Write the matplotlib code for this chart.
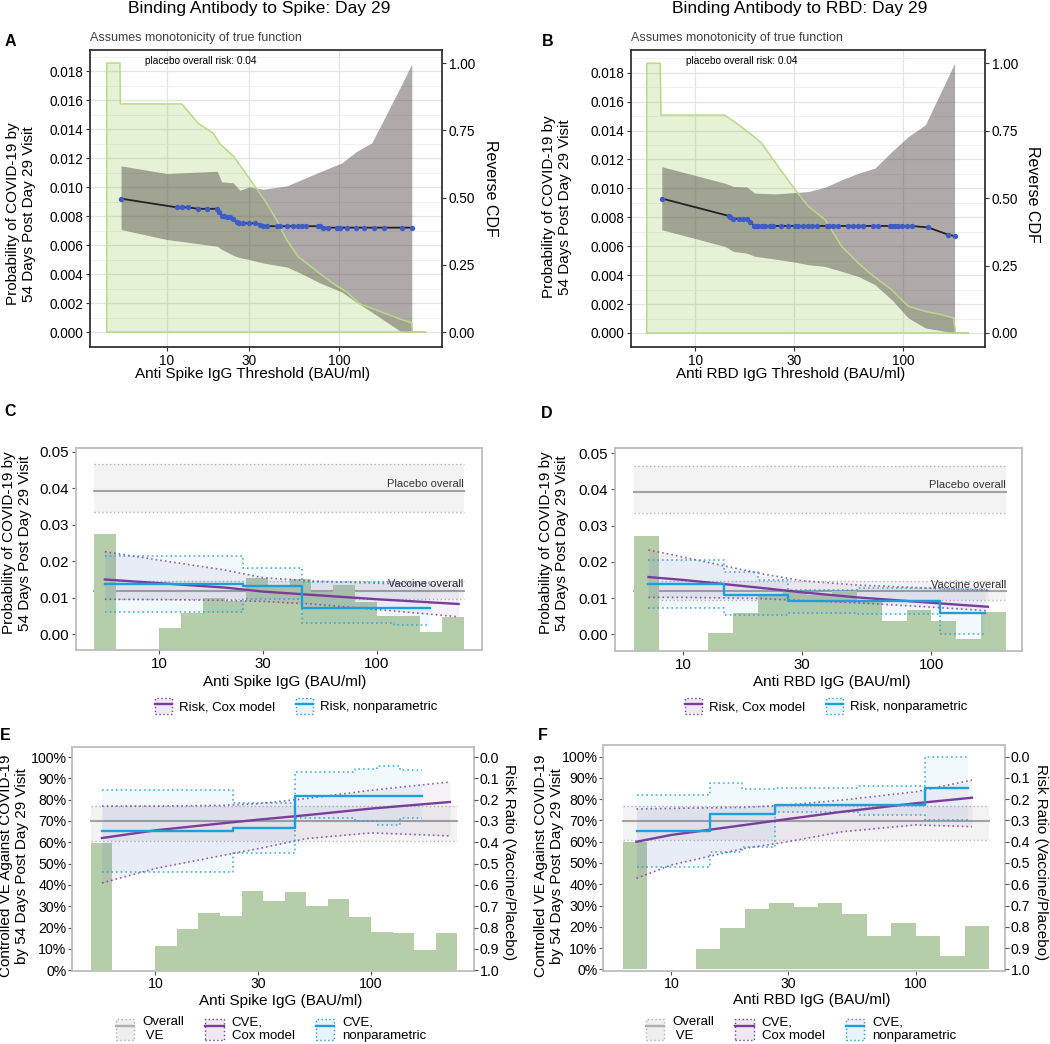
import numpy as np
import matplotlib
matplotlib.use('Agg')
import matplotlib.pyplot as plt
from matplotlib.patches import Patch
from matplotlib.lines import Line2D
from matplotlib.ticker import FixedLocator, NullLocator

plt.rcParams['font.family'] = ['Liberation Sans', 'DejaVu Sans']

# ---------------------------------------------------------------- data
titles = ["Binding Antibody to Spike: Day 29", "Binding Antibody to RBD: Day 29"]
thr_xlabels = ["Anti Spike IgG Threshold (BAU/ml)", "Anti RBD IgG Threshold (BAU/ml)"]
conc_xlabels = ["Anti Spike IgG (BAU/ml)", "Anti RBD IgG (BAU/ml)"]
risk_ylabel = "Probability of COVID-19 by\n54 Days Post Day 29 Visit"
ve_ylabel = "Controlled VE Against COVID-19\nby 54 Days Post Day 29 Visit"
x_ticks = [10, 30, 100]
thr_yticks = [0.000, 0.002, 0.004, 0.006, 0.008, 0.010, 0.012, 0.014, 0.016, 0.018]
thr_yminor = [0.001, 0.003, 0.005, 0.007, 0.009, 0.011, 0.013, 0.015, 0.017, 0.019]
cdf_ticks = [0.00, 0.25, 0.50, 0.75, 1.00]
risk_yticks = [0.00, 0.01, 0.02, 0.03, 0.04, 0.05]
ve_yticks = [0, 10, 20, 30, 40, 50, 60, 70, 80, 90, 100]
rr_ticks = [0.0, 0.1, 0.2, 0.3, 0.4, 0.5, 0.6, 0.7, 0.8, 0.9, 1.0]

# Panel A (Spike threshold)
cdfA_x = [4.47, 5.33, 5.36, 12.2, 15.2, 18.6, 20.3, 24.5, 30.6, 38.0, 43.4, 49.7, 58.0,
          77.6, 92.7, 111, 131, 157, 223, 264.8, 267, 320]
cdfA_y = [1.0, 1.0, 0.848, 0.848, 0.776, 0.739, 0.70, 0.652, 0.565, 0.478, 0.416, 0.342,
          0.28, 0.217, 0.18, 0.149, 0.106, 0.087, 0.05, 0.034, 0.0, 0.0]
ciA_x = [5.41, 10, 19.6, 20.8, 24.3, 26.5, 30.1, 36.3, 49.7, 59.5, 77.6, 104, 125.6, 155,
         183, 232, 264.8]
ciA_hi = [0.01146, 0.01093, 0.01109, 0.01036, 0.01029, 0.00978, 0.01001, 0.00985, 0.01008,
          0.01047, 0.01105, 0.01167, 0.01243, 0.01305, 0.0147, 0.0171, 0.01848]
ciA_lo = [0.00707, 0.00638, 0.00592, 0.00570, 0.00529, 0.00513, 0.00500, 0.00476, 0.00449,
          0.00407, 0.00338, 0.00276, 0.00207, 0.00138, 0.0008, 0.0, 0.0]
ptsA_x = [5.41, 11.4, 12.2, 13.2, 15.2, 17.2, 19.6, 20.2, 20.8, 21.4, 22.2, 23.2, 24.3, 25.4,
          26.4, 27.6, 30.1, 32.5, 34.8, 36.3, 38.0, 43.4, 45.4, 49.7, 54.2, 58.0, 60.7, 64.3,
          75.1, 77.6, 81.1, 86.8, 97.0, 101.4, 110.9, 125.6, 140.4, 160.4, 183.4, 231.6, 264.8]
ptsA_y = [0.0092, 0.0086, 0.0086, 0.0086, 0.0085, 0.0085, 0.0085, 0.0083, 0.0080, 0.0080,
          0.0079, 0.0079, 0.0078, 0.0076, 0.0075, 0.0075, 0.0075, 0.0075, 0.0074, 0.0073,
          0.0073, 0.0073, 0.0073, 0.0073, 0.0073, 0.0073, 0.0073, 0.0073, 0.0073, 0.0073,
          0.0072, 0.0072, 0.0072, 0.0072, 0.0072, 0.0072, 0.0072, 0.0072, 0.0072, 0.0072, 0.0072]

# Panel B (RBD threshold)
cdfB_x = [5.86, 6.8, 6.85, 13.9, 16.2, 18.7, 20.9, 25.1, 30.3, 35.1, 42.2, 50.7, 61.0, 70.6,
          88.3, 106, 128, 153, 175, 179, 206]
cdfB_y = [1.0, 1.0, 0.808, 0.808, 0.772, 0.735, 0.704, 0.617, 0.531, 0.469, 0.42, 0.321,
          0.259, 0.216, 0.16, 0.099, 0.08, 0.068, 0.056, 0.0, 0.0]
ciB_x = [6.92, 13.9, 15.3, 17.7, 19.4, 24.3, 30.3, 35.1, 42.2, 50.7, 61.0, 73.3, 88.3, 106,
         128, 177]
ciB_hi = [0.0115, 0.01036, 0.01013, 0.0101, 0.00967, 0.00962, 0.00971, 0.00978, 0.01008,
          0.01059, 0.01105, 0.0114, 0.01254, 0.01358, 0.01439, 0.01865]
ciB_lo = [0.00714, 0.00599, 0.00564, 0.00552, 0.0053, 0.00511, 0.00490, 0.00472, 0.0046,
          0.00426, 0.00391, 0.00334, 0.0023, 0.00104, 0.00035, 0.0]
ptsB_x = [6.92, 14.5, 14.8, 15.3, 16.2, 17.1, 17.7, 18.4, 19.3, 19.6, 20.1, 20.9, 21.7, 23.0,
          23.8, 25.9, 28.1, 30.3, 31.2, 33.2, 34.9, 36.7, 38.5, 43.0, 44.1, 46.2, 48.9, 54.6,
          57.7, 61.0, 64.5, 71.4, 75.5, 86.6, 88.3, 91.6, 94.9, 98.6, 104, 110, 132, 165, 177]
ptsB_y = [0.0093, 0.0081, 0.0080, 0.0079, 0.0079, 0.0079, 0.0079, 0.0077, 0.0074, 0.0074,
          0.0074, 0.0074, 0.0074, 0.0074, 0.0074, 0.0074, 0.0074, 0.0074, 0.0074, 0.0074,
          0.0074, 0.0074, 0.0074, 0.0074, 0.0074, 0.0074, 0.0074, 0.0074, 0.0074, 0.0074,
          0.0074, 0.0074, 0.0074, 0.0074, 0.0074, 0.0074, 0.0074, 0.0074, 0.0074, 0.0074,
          0.0073, 0.0068, 0.0067]

# Histograms of marker distribution (log10 bin edges, % height)
hist_spike_edges = [0.7, 0.8, 0.9, 1.0, 1.1, 1.2, 1.3, 1.4, 1.5, 1.6, 1.7, 1.8, 1.9, 2.0,
                    2.1, 2.2, 2.3, 2.4]
hist_spike_pct = [59.8, 0, 0, 11.3, 19.2, 26.9, 25.5, 37.3, 32.3, 36.9, 30.0, 33.4, 25.0,
                  17.8, 17.5, 9.4, 17.3]
hist_rbd_edges = [0.8, 0.9, 1.0, 1.1, 1.2, 1.3, 1.4, 1.5, 1.6, 1.7, 1.8, 1.9, 2.0, 2.1,
                  2.2, 2.3]
hist_rbd_pct = [60.0, 0, 0, 9.4, 19.6, 28.4, 31.3, 29.2, 31.0, 26.0, 15.7, 21.6, 15.7, 6.1, 20.4]

# Overall risk bands (lower, estimate, upper)
placebo_risk = [0.0334, 0.0393, 0.0465]
vaccine_risk = [0.0096, 0.0119, 0.0146]
overall_ve = [60.6, 69.8, 77.0]

# Panel C (Spike risk)
coxC_x = [5.62, 10, 20, 30, 50, 100, 238]
coxC = [0.0150, 0.0140, 0.0128, 0.0117, 0.0108, 0.0096, 0.0083]
coxC_hi = [0.0226, 0.0203, 0.0176, 0.0155, 0.0146, 0.0140, 0.0133]
coxC_lo = [0.0096, 0.0095, 0.0093, 0.0090, 0.0083, 0.0068, 0.0048]
npC_x = [5.62, 24.2, 45.2, 120, 176]
npC = [0.0139, 0.0133, 0.0073, 0.0073, 0.0073]
npC_hi = [0.0215, 0.0181, 0.0143, 0.0141, 0.0141]
npC_lo = [0.0062, 0.0096, 0.0030, 0.0025, 0.0025]

# Panel D (RBD risk)
coxD_x = [7.23, 10, 20, 30, 50, 100, 169]
coxD = [0.0158, 0.0150, 0.0129, 0.0116, 0.0102, 0.0087, 0.0076]
coxD_hi = [0.0233, 0.0213, 0.0169, 0.0148, 0.0136, 0.0127, 0.0122]
coxD_lo = [0.0102, 0.0102, 0.0099, 0.0093, 0.0087, 0.0075, 0.0065]
npD_x = [7.23, 14.6, 20, 26.5, 50, 108, 164]
npD = [0.0140, 0.0109, 0.0109, 0.0091, 0.0091, 0.0058, 0.0058]
npD_hi = [0.0205, 0.0173, 0.0150, 0.0122, 0.0129, 0.0126, 0.0126]
npD_lo = [0.0072, 0.0053, 0.0053, 0.0060, 0.0056, 0.0000, 0.0000]

# Panel E (Spike CVE, %)
coxE_x = [5.66, 10, 20, 30, 50, 100, 232]
coxE = [62.0, 65.6, 68.8, 70.6, 72.7, 75.8, 78.9]
coxE_hi = [77.0, 77.0, 77.3, 78.1, 80.5, 84.4, 88.3]
coxE_lo = [40.9, 47.7, 53.6, 57.0, 61.7, 64.4, 63.0]
npE_x = [5.66, 23.0, 44.5, 84.3, 106, 136, 172]
npE = [65.3, 66.7, 81.7, 81.7, 81.7, 81.7, 81.7]
npE_hi = [84.7, 78.5, 93.0, 94.5, 96.0, 93.8, 93.8]
npE_lo = [46.1, 55.0, 71.6, 70.0, 68.0, 71.6, 71.6]

# Panel F (RBD CVE, %)
coxF_x = [7.2, 10, 20, 30, 50, 100, 170]
coxF = [60.0, 63.2, 67.9, 70.7, 74.1, 78.1, 80.7]
coxF_hi = [75.4, 75.7, 76.2, 77.3, 79.6, 83.5, 89.0]
coxF_lo = [42.8, 49.1, 56.9, 60.0, 64.7, 67.9, 67.1]
npF_x = [7.2, 14.4, 19.4, 26.5, 58.2, 109, 163]
npF = [65.0, 72.9, 72.9, 77.3, 77.3, 85.4, 85.4]
npF_hi = [82.0, 87.5, 84.8, 85.3, 86.4, 100.0, 100.0]
npF_lo = [48.3, 55.3, 57.7, 74.1, 72.5, 70.0, 70.0]

# ---------------------------------------------------------------- style
PURPLE = '#7b3c9c'
BLUE = '#1f9fd9'
GRAY = '#a3a3a3'
HIST = '#b6cdaa'
FRAME = '#bdbdbd'
DOT = (0, (1, 1.8))
LAB_FS = 11

W, H = 1050, 1044
fig = plt.figure(figsize=(W / 100, H / 100), dpi=100)


def add_ax(l, t, r, b):
    return fig.add_axes([l / W, 1 - b / H, (r - l) / W, (b - t) / H])


def T(x, y, s, **kw):
    kw.setdefault('ha', 'center')
    kw.setdefault('va', 'center')
    fig.text(x / W, 1 - y / H, s, **kw)


def log_x(ax, xlim):
    ax.set_xscale('log')
    ax.set_xlim(*xlim)
    ax.set_xticks(x_ticks, labels=[str(v) for v in x_ticks])
    ax.xaxis.set_minor_locator(NullLocator())


def threshold_panel(ax, xlim, ylim, cdf_scale, cdf_x, cdf_y, ci_x, ci_lo, ci_hi, px, py):
    log_x(ax, xlim)
    ax.set_ylim(*ylim)
    ax.set_yticks(thr_yticks, labels=[f'{v:.3f}' for v in thr_yticks])
    ax.yaxis.set_minor_locator(FixedLocator(thr_yminor))
    ax.grid(True, which='major', color='#e4e4e4', lw=0.9)
    ax.grid(True, which='minor', axis='y', color='#efefef', lw=0.6)
    ax.set_axisbelow(True)
    ax.tick_params(which='minor', length=0)
    ax.tick_params(which='major', labelsize=9.8, length=3, color='#333333', pad=2)
    cy = np.asarray(cdf_y) * cdf_scale
    ax.fill_between(cdf_x, 0, cy, color='#82be2d', alpha=0.2, lw=0, zorder=1)
    ax.fill_between(ci_x, ci_lo, ci_hi, color='#554a4a', alpha=0.47, lw=0, zorder=2)
    ax.plot(np.r_[cdf_x[0], cdf_x, cdf_x[0]], np.r_[0, cy, 0], color='#b9d98a', lw=1.1, zorder=3)
    ax.plot(px, py, color='#222222', lw=1.3, zorder=4)
    ax.scatter(px, py, s=15, color='#3d5cc6', lw=0, zorder=5)
    for s in ax.spines.values():
        s.set_color('#333333')
        s.set_linewidth(1.3)
    ax2 = ax.twinx()
    ax2.set_ylim(ylim[0] / cdf_scale, ylim[1] / cdf_scale)
    ax2.set_yticks(cdf_ticks, labels=[f'{v:.2f}' for v in cdf_ticks])
    ax2.tick_params(labelsize=9.8, length=3, color='#333333', pad=2)
    for s in ax2.spines.values():
        s.set_visible(False)
    ax.text(0.155, 0.963, 'placebo overall risk: 0.04', transform=ax.transAxes,
            fontsize=7.3, va='center', ha='left', zorder=6)


def band(ax, x0, x1, lo, est, hi):
    ax.fill_between([x0, x1], lo, hi, color='#f3f3f3', lw=0, zorder=1)
    ax.plot([x0, x1], [lo, lo], color='#b5b5b5', lw=1.0, ls=DOT, zorder=1.1)
    ax.plot([x0, x1], [hi, hi], color='#b5b5b5', lw=1.0, ls=DOT, zorder=1.1)
    ax.plot([x0, x1], [est, est], color=GRAY, lw=1.5, zorder=1.2)


def curves(ax, cox_x, cox, cox_lo, cox_hi, np_x, np_est, np_lo, np_hi):
    ax.fill_between(cox_x, cox_lo, cox_hi, color=PURPLE, alpha=0.07, lw=0, zorder=3)
    ax.fill_between(np_x, np_lo, np_hi, step='post', color=BLUE, alpha=0.06, lw=0, zorder=3)
    for arr in (cox_lo, cox_hi):
        ax.plot(cox_x, arr, color=PURPLE, lw=1.2, ls=DOT, alpha=0.8, zorder=4)
    for arr in (np_lo, np_hi):
        ax.plot(np_x, arr, color=BLUE, lw=1.2, ls=DOT, alpha=0.8, drawstyle='steps-post', zorder=4)
    ax.plot(cox_x, cox, color=PURPLE, lw=1.7, zorder=5)
    ax.plot(np_x, np_est, color=BLUE, lw=1.7, drawstyle='steps-post', zorder=5)


def light_frame(ax):
    for s in ax.spines.values():
        s.set_color(FRAME)
        s.set_linewidth(1.3)


def risk_panel(ax, xlim, ylim, edges, pct, hscale, cox_x, cox, cox_lo, cox_hi,
               np_x, np_est, np_lo, np_hi):
    log_x(ax, xlim)
    ax.set_ylim(*ylim)
    ax.set_yticks(risk_yticks, labels=[f'{v:.2f}' for v in risk_yticks])
    ax.tick_params(labelsize=10.8, length=3, color='#555555', pad=2)
    be = 10 ** np.asarray(edges)
    x0, x1 = be[0], be[-1]
    for (lo, est, hi), txt in [(placebo_risk, 'Placebo overall'), (vaccine_risk, 'Vaccine overall')]:
        band(ax, x0, x1, lo, est, hi)
        ax.text(x1, est + 0.0004, txt, ha='right', va='bottom', fontsize=8, color='#333333', zorder=6)
    ax.bar(be[:-1], np.asarray(pct) * hscale, width=np.diff(be), bottom=ylim[0], align='edge',
           color=HIST, lw=0, zorder=2)
    curves(ax, cox_x, cox, cox_lo, cox_hi, np_x, np_est, np_lo, np_hi)
    light_frame(ax)


def ve_panel(ax, xlim, ylim, edges, pct, cox_x, cox, cox_lo, cox_hi, np_x, np_est, np_lo, np_hi):
    log_x(ax, xlim)
    ax.set_ylim(*ylim)
    ax.set_yticks(ve_yticks, labels=[f'{v}%' for v in ve_yticks])
    ax.tick_params(labelsize=10.2, length=3, color='#555555', pad=1)
    be = 10 ** np.asarray(edges)
    band(ax, be[0], be[-1], *overall_ve)
    ax.bar(be[:-1], pct, width=np.diff(be), align='edge', color=HIST, lw=0, zorder=2)
    curves(ax, cox_x, cox, cox_lo, cox_hi, np_x, np_est, np_lo, np_hi)
    light_frame(ax)
    ax2 = ax.twinx()
    ax2.set_ylim(1 - ylim[0] / 100, 1 - ylim[1] / 100)
    ax2.set_yticks(rr_ticks, labels=[f'{v:.1f}' for v in rr_ticks])
    ax2.tick_params(labelsize=10.2, length=3, color='#555555', pad=1)
    for s in ax2.spines.values():
        s.set_visible(False)


def key(color, fill):
    return (Patch(facecolor=fill, edgecolor=color, linestyle=DOT, linewidth=1.0),
            Line2D([], [], color=color, lw=1.7))


# ---------------------------------------------------------------- panels
axA = add_ax(90, 50, 442, 347)
axB = add_ax(631, 50, 985, 347)
axC = add_ax(76, 448, 482, 650)
axD = add_ax(615, 448, 1022, 651)
axE = add_ax(72, 747, 474, 971)
axF = add_ax(603, 745, 1005, 971)

threshold_panel(axA, (3.57, 397), (-0.00103, 0.01945), 0.01855,
                cdfA_x, cdfA_y, ciA_x, ciA_lo, ciA_hi, ptsA_x, ptsA_y)
threshold_panel(axB, (4.92, 248), (-0.00097, 0.01957), 0.01865,
                cdfB_x, cdfB_y, ciB_x, ciB_lo, ciB_hi, ptsB_x, ptsB_y)

risk_panel(axC, (4.14, 305), (-0.0043, 0.0510), hist_spike_edges, hist_spike_pct, 0.00053,
           coxC_x, coxC, coxC_lo, coxC_hi, npC_x, npC, npC_lo, npC_hi)
risk_panel(axD, (5.30, 232), (-0.0046, 0.0514), hist_rbd_edges, hist_rbd_pct, 0.00053,
           coxD_x, coxD, coxD_lo, coxD_hi, npD_x, npD, npD_lo, npD_hi)

ve_panel(axE, (4.11, 300), (-0.4, 104.7), hist_spike_edges, hist_spike_pct,
         coxE_x, coxE, coxE_lo, coxE_hi, npE_x, npE, npE_lo, npE_hi)
ve_panel(axF, (5.25, 232), (-0.8, 105.5), hist_rbd_edges, hist_rbd_pct,
         coxF_x, coxF, coxF_lo, coxF_hi, npF_x, npF, npF_lo, npF_hi)

# ---------------------------------------------------------------- text
T(259, 9, titles[0], fontsize=12.5)
T(800, 9, titles[1], fontsize=12.5)
T(90, 38, 'Assumes monotonicity of true function', ha='left', fontsize=9, color='#404040')
T(631, 38, 'Assumes monotonicity of true function', ha='left', fontsize=9, color='#404040')
for x, y, s in [(10, 42, 'A'), (548, 42, 'B'), (10, 412, 'C'), (547, 413, 'D'),
                (5, 735, 'E'), (543, 735, 'F')]:
    T(x, y, s, fontsize=11.5, fontweight='bold')

T(253, 374, thr_xlabels[0], fontsize=LAB_FS)
T(791, 374, thr_xlabels[1], fontsize=LAB_FS)
T(285, 682, conc_xlabels[0], fontsize=LAB_FS)
T(832, 682, conc_xlabels[1], fontsize=LAB_FS)
T(281, 1001, conc_xlabels[0], fontsize=LAB_FS)
T(812, 1000, conc_xlabels[1], fontsize=LAB_FS)

T(21, 214, risk_ylabel, rotation=90, fontsize=LAB_FS, linespacing=1.2)
T(557, 207, risk_ylabel, rotation=90, fontsize=LAB_FS, linespacing=1.2)
T(17, 543, risk_ylabel, rotation=90, fontsize=LAB_FS, linespacing=1.2)
T(554, 543, risk_ylabel, rotation=90, fontsize=LAB_FS, linespacing=1.2)
T(14, 866, ve_ylabel, rotation=90, fontsize=LAB_FS, linespacing=1.2)
T(549, 866, ve_ylabel, rotation=90, fontsize=LAB_FS, linespacing=1.2)

T(491, 188, 'Reverse CDF', rotation=270, fontsize=LAB_FS + 0.5)
T(1033, 194, 'Reverse CDF', rotation=270, fontsize=LAB_FS + 0.5)
T(509, 862, 'Risk Ratio (Vaccine/Placebo)', rotation=270, fontsize=LAB_FS)
T(1041, 862, 'Risk Ratio (Vaccine/Placebo)', rotation=270, fontsize=LAB_FS)

# ---------------------------------------------------------------- legends
risk_handles = [key(PURPLE, '#efe9f3'), key(BLUE, '#e8f4fb')]
risk_labels = ['Risk, Cox model', 'Risk, nonparametric']
ve_handles = [key('#b0b0b0', '#efefef'), key(PURPLE, '#efe9f3'), key(BLUE, '#e8f4fb')]
ve_labels = ['Overall\n VE', 'CVE,\nCox model', 'CVE,\nnonparametric']
for cx in (296, 826):
    fig.legend(risk_handles, risk_labels, loc='center', bbox_to_anchor=(cx / W, 1 - 706 / H),
               ncol=2, frameon=False, fontsize=9.5, handlelength=1.3, handleheight=1.4,
               handletextpad=0.5, columnspacing=1.6)
for cx in (271, 801):
    fig.legend(ve_handles, ve_labels, loc='center', bbox_to_anchor=(cx / W, 1 - 1029 / H),
               ncol=3, frameon=False, fontsize=9.5, handlelength=1.4, handleheight=2.0,
               handletextpad=0.6, columnspacing=1.6)

fig.savefig('out.png', dpi=100)
